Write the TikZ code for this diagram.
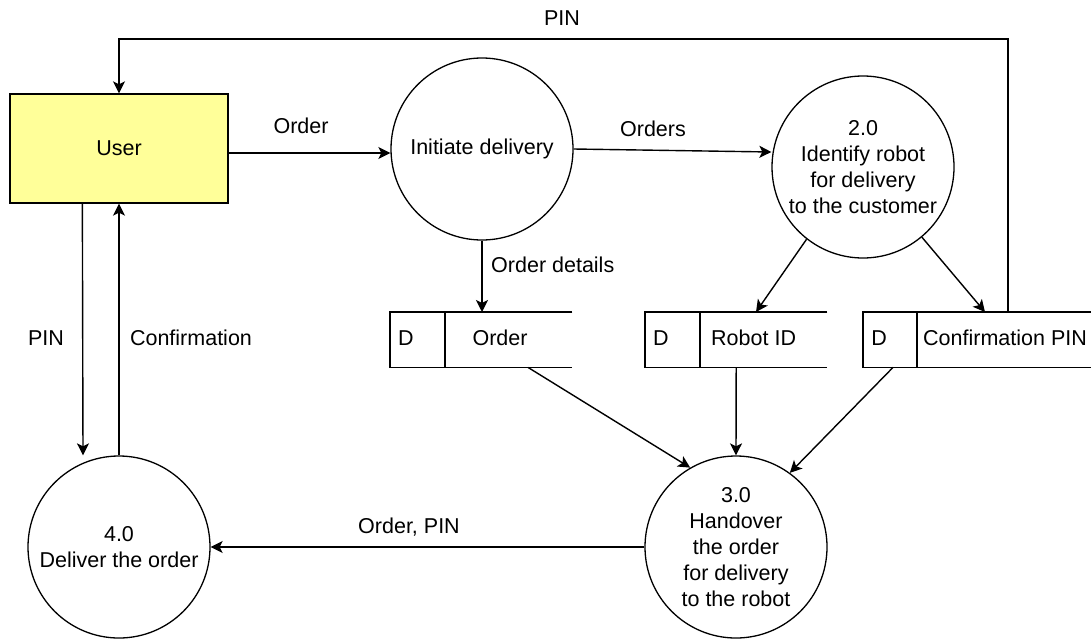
\documentclass[tikz,border=0pt]{standalone}
\usepackage{fontspec}
\setmainfont{Liberation Sans}
\usetikzlibrary{arrows.meta,calc}

\definecolor{entityfill}{HTML}{FFFF99}

\tikzset{
  every picture/.style={x=1pt,y=-1pt},
  txt/.style={font=\fontsize{21.5}{26}\selectfont, inner sep=0pt, align=center},
  proc/.style={draw, circle, line width=1.3pt, minimum size=182pt, inner sep=0pt,
               font=\fontsize{21.5}{26}\selectfont, align=center},
  entity/.style={draw, line width=1.3pt, fill=entityfill, minimum width=218pt,
                 minimum height=109pt, inner sep=0pt, font=\fontsize{21.5}{26}\selectfont},
  storearea/.style={minimum width=#1, minimum height=55pt, inner sep=0pt, anchor=north west},
  storeline/.style={line width=1.3pt},
  flow/.style={line width=1.4pt, -{Stealth[length=12pt,width=12pt,inset=3pt]}}
}

\begin{document}
\begin{tikzpicture}
\useasboundingbox[fill=white] (0,0) rectangle (1091,640);

% external entity and processes
\node[entity] (user) at (119,148.5) {User};
\node[proc] (c1) at (482,149) {Initiate delivery};
\node[proc] (c2) at (863,167) {2.0\\Identify robot\\for delivery\\to the customer};
\node[proc] (c3) at (736,547) {3.0\\Handover\\the order\\for delivery\\to the robot};
\node[proc] (c4) at (119,547) {4.0\\Deliver the order};

% data stores (open on the right)
\node[storearea=182pt] (sOrder) at (390,312) {};
\node[storearea=182pt] (sRobot) at (645,312) {};
\node[storearea=228pt] (sPin)   at (863,312) {};

\foreach \s/\d in {sOrder/55, sRobot/55, sPin/54}{
  \draw[storeline] (\s.north east) -- (\s.north west) -- (\s.south west) -- (\s.south east);
  \draw[storeline] ($(\s.north west)+(\d,0)$) -- ($(\s.south west)+(\d,0)$);
}

\node[txt] at (406,338) {D};
\node[txt] at (500,338) {Order};
\node[txt] at (661,338) {D};
\node[txt, anchor=west] at (711,338) {Robot ID};
\node[txt] at (879,338) {D};
\node[txt, anchor=west] at (923,338) {Confirmation PIN};

% data flows
\draw[flow] (user.east |- 0,153) -- (c1.west |- 0,153);
\node[txt] at (301,126) {Order};
\draw[flow] (c1.east) -- (c2.west |- 0,152);
\node[txt] at (653,129) {Orders};
\draw[flow] (c1.south) -- (sOrder.north -| c1.south);
\node[txt, anchor=west] at (491,265) {Order details};

\draw[flow] (c2.232) -- ($(sRobot.north west)+(111,0)$);
\draw[flow] (c2.310) -- ($(sPin.north west)+(122,0)$);

\coordinate (pinUp) at ($(sPin.north west)+(145,0)$);
\draw[flow] (pinUp) -- (pinUp |- 0,39) -- (user.north |- 0,39) -- (user.north);
\node[txt] at (562,18) {PIN};

\draw[flow] ($(sOrder.south west)+(138,0)$) -- (c3.120);
\draw[flow] (sRobot.south) -- (c3.north);
\draw[flow] ($(sPin.south west)+(30,0)$) -- (c3.54);

\draw[flow] (c3.west) -- (c4.east);
\node[txt] at (409,527) {Order, PIN};

\draw[flow] ($(user.south west)+(73,0)$) -- ($(c4.north)+(-36,0)$);
\node[txt] at (46,338) {PIN};
\draw[flow] (c4.north) -- (user.south);
\node[txt] at (191,338) {Confirmation};
\end{tikzpicture}
\end{document}
